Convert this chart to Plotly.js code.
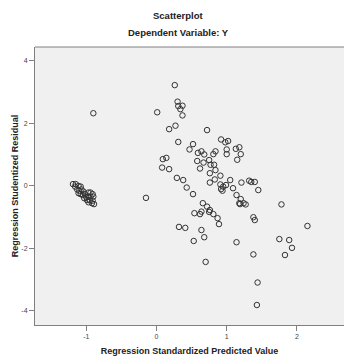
<!DOCTYPE html>
<html>
<head>
<meta charset="utf-8">
<script src="https://cdn.plot.ly/plotly-3.0.1.min.js"></script>
<style>html,body{margin:0;padding:0;background:#fff;overflow:hidden}#chart{width:344px;height:360px}</style>
</head>
<body>
<div id="chart"></div>
<script>
var xVals = [
-1.19,-1.15,-1.16,-1.11,-1.08,-1.13,-1.10,-1.07,-1.04,-1.11,-1.08,-1.05,-1.02,-0.97,-0.94,-0.91,-1.00,-0.97,-0.94,-0.90,-1.03,-0.99,-0.95,-0.91,-0.97,-0.92,-0.89,
-0.90,-0.15,
0.26,0.30,0.31,0.37,0.34,0.37,0.01,0.27,0.18,0.72,0.31,0.52,0.47,0.92,0.98,1.02,1.00,1.00,1.13,1.18,1.15,0.59,0.64,0.68,0.81,0.84,0.58,0.67,0.75,0.77,0.82,0.09,0.14,0.08,0.18,0.62,0.84,
1.20,0.76,0.91,0.76,0.83,0.91,0.95,0.99,0.92,0.94,1.05,1.09,1.21,1.32,1.35,1.40,1.45,1.14,1.20,
0.29,0.38,0.43,0.52,0.66,0.72,0.76,0.75,0.81,0.87,0.89,0.64,0.62,0.54,0.32,0.41,0.64,0.68,0.53,0.70,1.14,1.18,1.19,1.24,1.27,1.78,1.38,1.40,2.15,1.75,1.89,1.93,1.83,1.38,1.44,1.43
];
var yVals = [
0.05,0.05,-0.03,-0.01,-0.03,-0.12,-0.16,-0.12,-0.19,-0.24,-0.27,-0.30,-0.27,-0.22,-0.22,-0.27,-0.37,-0.35,-0.35,-0.35,-0.40,-0.46,-0.46,-0.48,-0.53,-0.56,-0.59,
2.32,-0.39,
3.22,2.69,2.55,2.56,2.45,2.25,2.35,1.92,1.81,1.78,1.40,1.33,1.16,1.48,1.39,1.43,1.16,1.01,1.18,1.23,0.83,1.05,1.10,1.00,1.01,1.10,0.79,0.74,0.82,0.67,0.67,0.85,0.89,0.58,0.53,0.55,0.50,
1.01,0.40,0.32,0.10,0.20,0.04,-0.03,0.02,-0.11,-0.16,0.18,-0.08,0.10,0.16,0.12,0.12,-0.14,-0.30,-0.43,
0.25,0.18,-0.06,-0.27,-0.56,-0.67,-0.78,-0.84,-0.91,-1.04,-1.23,-0.83,-0.91,-0.88,-1.32,-1.35,-1.42,-1.65,-1.77,-2.44,-1.81,-0.56,-0.59,-0.56,-0.60,-0.60,-1.01,-1.10,-1.29,-1.71,-1.74,-1.99,-2.22,-2.20,-3.10,-3.82
];
var xTicks = [-1, 0, 1, 2];
var yTicks = [-4, -2, 0, 2, 4];
var chartTitle = 'Scatterplot';
var chartSubtitle = 'Dependent Variable: Y';
var xTitle = 'Regression Standardized Predicted Value';
var yTitle = 'Regression Studentized Residual';

var narrow = '"Liberation Sans Narrow", "Arial Narrow", "Liberation Sans", Arial, sans-serif';

var trace = {
  x: xVals, y: yVals, type: 'scatter', mode: 'markers',
  marker: {symbol: 'circle-open', size: 5.5, color: '#333333', line: {width: 1, color: '#333333'}},
  hoverinfo: 'none'
};

var layout = {
  width: 344, height: 360,
  margin: {l: 35, r: 0, t: 47, b: 35, pad: 0},
  paper_bgcolor: '#ffffff', plot_bgcolor: '#f0f0f0',
  showlegend: false,
  font: {family: 'Arial, sans-serif', color: '#222'},
  xaxis: {
    range: [-1.731, 2.671], tickvals: xTicks, ticktext: xTicks.map(String),
    showgrid: false, zeroline: false, showline: true, linecolor: '#808080', linewidth: 1,
    ticks: 'outside', ticklen: 5, tickcolor: '#808080',
    tickfont: {size: 7, color: '#444', family: 'Arial, sans-serif'},
    title: {text: '<b>' + xTitle + '</b>', font: {size: 9, family: narrow, color: '#222'}, standoff: 8},
    automargin: false, fixedrange: true
  },
  yaxis: {
    range: [-4.46, 4.44], tickvals: yTicks, ticktext: yTicks.map(String),
    showgrid: false, zeroline: false, showline: true, linecolor: '#808080', linewidth: 1,
    ticks: 'outside', ticklen: 5, tickcolor: '#808080',
    tickfont: {size: 7, color: '#444', family: 'Arial, sans-serif'},
    title: {text: '<b>' + yTitle + '</b>', font: {size: 9, family: narrow, color: '#222'}, standoff: 1},
    automargin: false, fixedrange: true
  },
  shapes: [{type: 'line', xref: 'paper', yref: 'paper', x0: 0, x1: 1, y0: 1, y1: 1, line: {color: '#808080', width: 1}}],
  annotations: [
    {text: '<b>' + chartTitle + '</b>', xref: 'paper', yref: 'paper', x: (178-35)/309, y: 1, yshift: 32, showarrow: false, xanchor: 'center', yanchor: 'middle', font: {size: 9.5, family: narrow, color: '#222'}},
    {text: '<b>' + chartSubtitle + '</b>', xref: 'paper', yref: 'paper', x: (178-35)/309, y: 1, yshift: 15, showarrow: false, xanchor: 'center', yanchor: 'middle', font: {size: 9.5, family: narrow, color: '#222'}}
  ]
};

Plotly.newPlot('chart', [trace], layout, {displayModeBar: false, staticPlot: true});
</script>
</body>
</html>
